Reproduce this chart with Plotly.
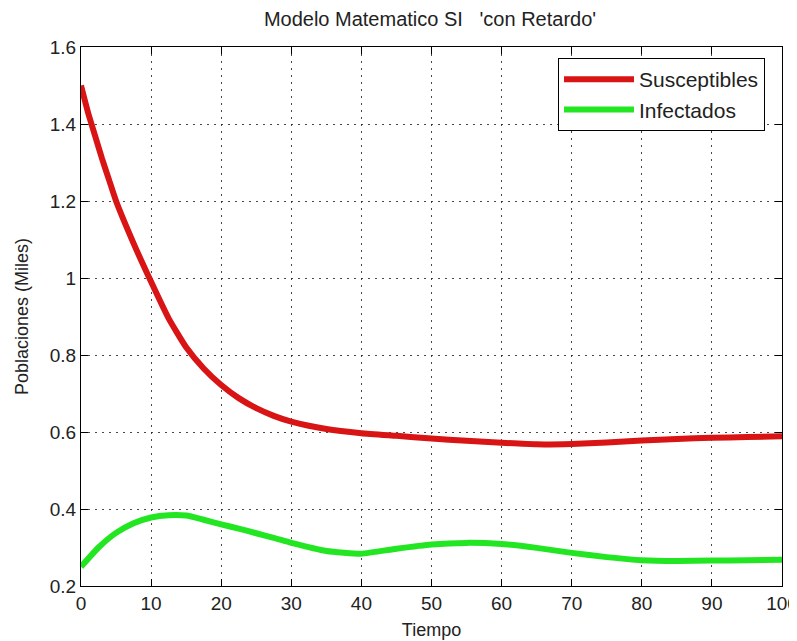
import plotly.graph_objects as go

# Data
t_s = [0, 1, 2, 3, 4, 5, 7.5, 10, 12.5, 15, 17.5, 20, 22.5, 25, 27.5, 30, 35, 40, 45, 50,
       55, 60, 65, 70, 75, 80, 85, 90, 95, 100]
susceptibles = [1.50, 1.43, 1.37, 1.31, 1.255, 1.20, 1.09, 0.99, 0.895, 0.82, 0.765, 0.722,
                0.688, 0.662, 0.642, 0.627, 0.608, 0.597, 0.59, 0.583, 0.577, 0.572, 0.568,
                0.569, 0.573, 0.578, 0.582, 0.585, 0.587, 0.589]

t_i = [0, 2.5, 5, 7.5, 10, 12.5, 15, 17.5, 20, 22.5, 25, 27.5, 30, 35, 40, 45, 50, 55, 60,
       65, 70, 75, 80, 85, 90, 95, 100]
infectados = [0.25, 0.30, 0.338, 0.363, 0.378, 0.384, 0.383, 0.372, 0.360, 0.349, 0.337,
              0.325, 0.312, 0.291, 0.284, 0.297, 0.308, 0.312, 0.309, 0.299, 0.286, 0.275,
              0.267, 0.265, 0.266, 0.267, 0.268]

x_ticks = [0, 10, 20, 30, 40, 50, 60, 70, 80, 90, 100]
y_ticks = [0.2, 0.4, 0.6, 0.8, 1.0, 1.2, 1.4, 1.6]
y_tick_labels = ["0.2", "0.4", "0.6", "0.8", "1", "1.2", "1.4", "1.6"]

FONT = "Liberation Sans, Arial, sans-serif"
TXT = "#222222"
OFF = 8  # page body margin offset

fig = go.Figure()
fig.add_trace(go.Scatter(x=t_s, y=susceptibles, mode="lines", name="Susceptibles",
                         line=dict(color="#d81414", width=6, shape="spline", smoothing=0.5)))
fig.add_trace(go.Scatter(x=t_i, y=infectados, mode="lines", name="Infectados",
                         line=dict(color="#22e622", width=6, shape="spline", smoothing=0.5)))

axis_common = dict(
    showline=True, linecolor="black", linewidth=1, mirror="ticks",
    ticks="inside", ticklen=7, tickcolor="black", automargin=False,
    showgrid=True, gridcolor="rgba(40,40,40,0.85)", griddash="2px,5px", gridwidth=1,
    zeroline=False, tickfont=dict(family=FONT, size=19, color=TXT),
)

W, H = 797, 641
left, right, top, bottom = 81 - OFF, 782 - OFF, 47 - OFF, 586 - OFF

fig.update_layout(
    width=W, height=H,
    paper_bgcolor="white", plot_bgcolor="white",
    margin=dict(l=left, r=W - right, t=top, b=H - bottom, autoexpand=False),
    title=dict(text="Modelo Matematico SI\u00a0\u00a0\u00a0'con Retardo'",
               x=(430 - OFF) / W, xanchor="center", y=1 - (19 - OFF) / H, yanchor="middle",
               xref="container", yref="container",
               font=dict(family=FONT, size=20, color=TXT)),
    xaxis=dict(range=[0, 100], tickvals=x_ticks,
               title=dict(text="Tiempo", font=dict(family=FONT, size=18, color=TXT), standoff=10),
               **axis_common),
    yaxis=dict(range=[0.2, 1.6], tickvals=y_ticks, ticktext=y_tick_labels,
               title=dict(text="Poblaciones (Miles)", font=dict(family=FONT, size=18, color=TXT), standoff=16),
               **axis_common),
    legend=dict(x=(765 - 81) / 701, y=(586 - 58) / 539, xanchor="right", yanchor="top",
                bgcolor="white", bordercolor="black", borderwidth=1,
                font=dict(family=FONT, size=21, color=TXT),
                itemwidth=70, tracegroupgap=0),
    showlegend=True,
)

fig.write_html("out.html")
